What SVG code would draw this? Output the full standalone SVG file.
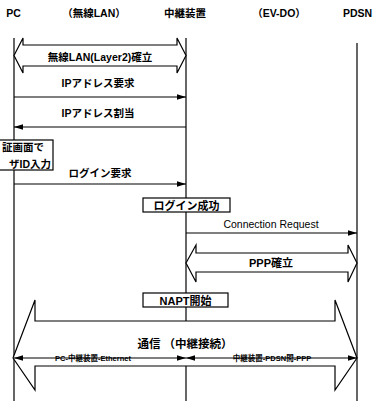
<svg xmlns="http://www.w3.org/2000/svg" width="373" height="401" viewBox="0 0 373 401">
<defs>
<style>
text{font-family:"Liberation Sans","Noto Sans CJK JP",sans-serif;fill:#000}
.h{font-size:10.5px;font-weight:bold;text-anchor:middle}
.l{font-size:10.5px;font-weight:bold;text-anchor:middle}
.r{font-size:10.5px;text-anchor:middle}
.s{font-size:7.5px;font-weight:bold;text-anchor:middle}
.ln{stroke:#000;stroke-width:1.2;fill:none}
.blk{stroke:#000;stroke-width:1.2;fill:#fff;stroke-linejoin:miter}
.box{stroke:#000;stroke-width:1.2;fill:#fff}
</style>
<marker id="ah" viewBox="0 0 10 6" refX="10" refY="3" markerWidth="9" markerHeight="6" orient="auto-start-reverse" markerUnits="userSpaceOnUse">
<path d="M0,0 L10,3 L0,6 Z" fill="#000"/>
</marker>
</defs>
<rect width="373" height="401" fill="#fff"/>
<g id="headers">
<text class="h" x="13.5" y="17">PC</text>
<text class="h" x="94" y="17">（無線LAN）</text>
<text class="h" x="185" y="17">中継装置</text>
<text class="h" x="279" y="17">（EV-DO）</text>
<text class="h" x="357.5" y="17">PDSN</text>
</g>
<g id="lifelines">
<line class="ln" x1="14" y1="38" x2="14" y2="401"/>
<line class="ln" x1="186" y1="38" x2="186" y2="401"/>
<line class="ln" x1="357" y1="43" x2="357" y2="401"/>
</g>
<g id="connectors">
<path id="wlan" class="blk" d="M14,55.5 L23,38 L23,45 L177,45 L177,38 L186,55.5 L177,73 L177,66 L23,66 L23,73 Z"/>
<text class="l" x="100" y="61">無線LAN(Layer2)確立</text>
<line class="ln" x1="14" y1="97" x2="186" y2="97" marker-end="url(#ah)"/>
<text class="l" x="98" y="87">IPアドレス要求</text>
<line class="ln" x1="186" y1="127" x2="14" y2="127" marker-end="url(#ah)"/>
<text class="l" x="98" y="117">IPアドレス割当</text>
<line class="ln" x1="14" y1="184" x2="186" y2="184" marker-end="url(#ah)"/>
<text class="l" x="100" y="177">ログイン要求</text>
<line class="ln" x1="186" y1="233" x2="357" y2="233" marker-end="url(#ah)"/>
<text class="r" x="271" y="228">Connection Request</text>
<path id="ppp" class="blk" d="M186,263 L196,245 L196,253 L348,253 L348,245 L357,263 L348,282 L348,272 L196,272 L196,282 Z"/>
<text class="l" x="271" y="267" style="font-size:11px">PPP確立</text>
<path id="comm" class="blk" d="M13,358 L35,300 L35,321 L335,321 L335,300 L357,358 L335,390 L335,366 L35,366 L35,390 Z"/>
<text class="l" x="185" y="348" style="font-size:11.5px">通信 （中継接続）</text>
<text class="s" x="93" y="360.5">PC-中継装置-Ethernet</text>
<text class="s" x="272" y="360.5">中継装置-PDSN間-PPP</text>
<line class="ln" x1="14" y1="358" x2="186" y2="358" marker-start="url(#ah)" marker-end="url(#ah)"/>
<line class="ln" x1="186" y1="358" x2="357" y2="358" marker-start="url(#ah)" marker-end="url(#ah)"/>
</g>
<g id="auth">
<rect class="box" x="-2" y="140" width="55" height="30"/>
<text x="44" y="151" style="font-size:10.5px;font-weight:bold;text-anchor:end">証画面で</text>
<text x="51" y="167.5" style="font-size:10.5px;font-weight:bold;text-anchor:end">ザID入力</text>
</g>
<g id="login-ok">
<rect class="box" x="143" y="198" width="87" height="14"/>
<text class="l" x="186.5" y="209.5" style="font-size:11px">ログイン成功</text>
</g>
<g id="napt">
<rect class="box" x="143" y="293" width="85" height="14"/>
<text class="l" x="185.5" y="304.5" style="font-size:11px">NAPT開始</text>
</g>
</svg>
